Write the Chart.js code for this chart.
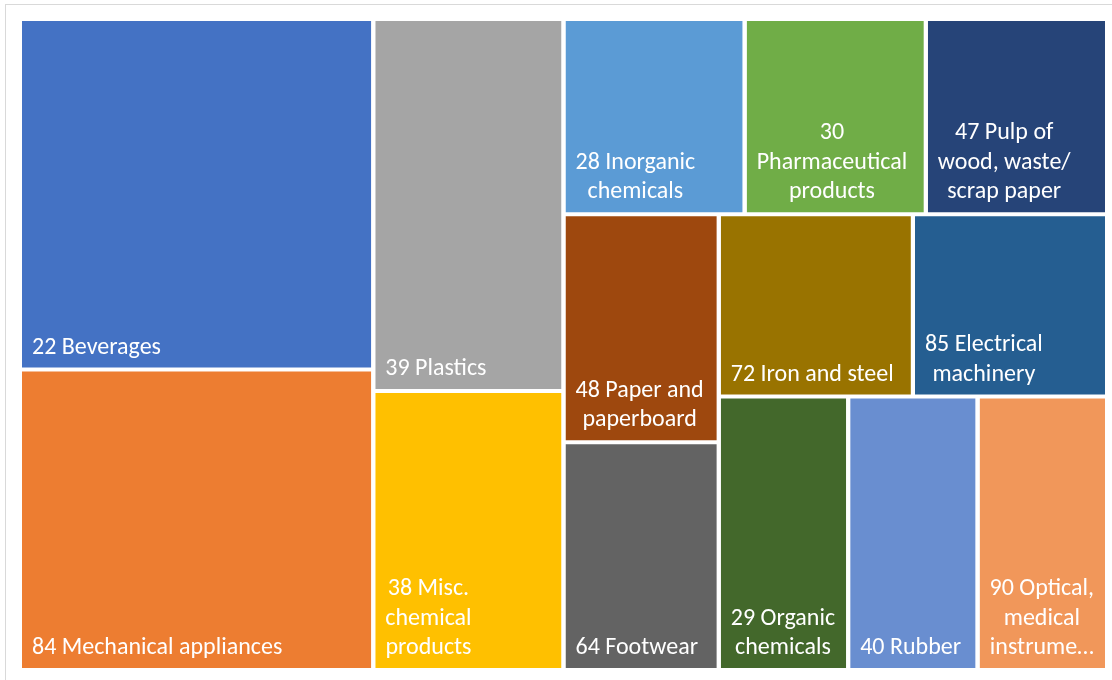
<!DOCTYPE html>
<html>
<head>
<meta charset="utf-8">
<title>Treemap</title>
<script src="https://cdn.jsdelivr.net/npm/chart.js@4.4.0/dist/chart.umd.min.js"></script>
<style>
    html, body { margin: 0; padding: 0; background: #fff; overflow: hidden; }
    #frame { position: absolute; left: 5px; top: 4px; width: 1200px; height: 800px; border: 1px solid #d9d9d9; }
    #wrap { position: absolute; left: 0; top: 0; width: 1112px; height: 680px; }
</style>
</head>
<body>
<div id="frame"></div>
<div id="wrap"><canvas id="myChart"></canvas></div>
<script>
// HS chapters, in the order the tiles are laid out (largest first)
var categories = [
    '22 Beverages',
    '84 Mechanical appliances',
    '39 Plastics',
    '38 Misc. chemical products',
    '28 Inorganic chemicals',
    '30 Pharmaceutical products',
    '47 Pulp of wood, waste/scrap paper',
    '48 Paper and paperboard',
    '64 Footwear',
    '72 Iron and steel',
    '85 Electrical machinery',
    '29 Organic chemicals',
    '40 Rubber',
    '90 Optical, medical instruments'
];
var values = [7, 6, 4, 3, 2, 2, 2, 2, 2, 2, 2, 2, 2, 2];

// how many tiles go in each strip (the grouping the original layout used)
var strips = [2, 2, 3, 2, 2, 3];

var colors = ['#4472C4', '#ED7D31', '#A5A5A5', '#FFC000', '#5B9BD5', '#70AD47', '#264478',
              '#9E480E', '#636363', '#997300', '#255E91', '#43682B', '#698ED0', '#F1975A'];

var PADDING = {left: 20, top: 19, right: 5, bottom: 10};
var AREA_W = 1112 - PADDING.left - PADDING.right;
var AREA_H = 680 - PADDING.top - PADDING.bottom;
var HALF_GAP = 2;
var LABEL_FONT = '24px Carlito, Calibri, Lato, sans-serif';
var TEXT_PAD = 10;
var BASELINE_PAD = 14;
var LINE_H = 29.5;

function sum(list) {
    var s = 0;
    for (var i = 0; i < list.length; i++) s += list[i];
    return s;
}

function worstRatio(group, unit, thick) {
    var worst = 0;
    for (var i = 0; i < group.length; i++) {
        var len = group[i] * unit / thick;
        worst = Math.max(worst, len / thick, thick / len);
    }
    return worst;
}

// strip layout: each strip goes along whichever side gives squarer tiles
function layoutTiles(vals, groups, w, h) {
    var unit = (w * h) / sum(vals);
    var x = 0, y = 0, i = 0;
    var out = [];
    groups.forEach(function (n) {
        var group = vals.slice(i, i + n);
        var area = sum(group) * unit;
        var colW = area / h, rowH = area / w;
        if (worstRatio(group, unit, colW) <= worstRatio(group, unit, rowH)) {
            var yy = y;
            group.forEach(function (v) {
                var hh = v * unit / colW;
                out.push({x0: x, x1: x + colW, y0: yy, y1: yy + hh});
                yy += hh;
            });
            x += colW; w -= colW;
        } else {
            var xx = x;
            group.forEach(function (v) {
                var ww = v * unit / rowH;
                out.push({x0: xx, x1: xx + ww, y0: y, y1: y + rowH});
                xx += ww;
            });
            y += rowH; h -= rowH;
        }
        i += n;
    });
    return out;
}

var tiles = layoutTiles(values, strips, AREA_W, AREA_H);

// each tile is a two point line filled down to its bottom edge
var datasets = tiles.map(function (t, i) {
    return {
        label: categories[i],
        data: [{x: t.x0 + HALF_GAP, y: t.y0 + HALF_GAP}, {x: t.x1 - HALF_GAP, y: t.y0 + HALF_GAP}],
        fill: {value: t.y1 - HALF_GAP},
        backgroundColor: colors[i],
        borderColor: 'rgba(0,0,0,0)',
        borderWidth: 0,
        pointRadius: 0,
        pointHoverRadius: 0
    };
});

function wrapLabel(ctx, text, maxW) {
    // break at spaces and after slashes
    var tokens = [];
    text.split(' ').forEach(function (word) {
        var parts = word.split('/');
        parts.forEach(function (p, k) {
            var tok = k < parts.length - 1 ? p + '/' : p;
            if (tok.length) tokens.push({t: tok, sp: k === 0});
        });
    });
    var lines = [];
    var cur = '';
    for (var i = 0; i < tokens.length; i++) {
        var tok = tokens[i];
        var trial = cur === '' ? tok.t : cur + (tok.sp ? ' ' : '') + tok.t;
        if (ctx.measureText(trial).width <= maxW) {
            cur = trial;
            continue;
        }
        if (cur !== '') {
            lines.push(cur);
            cur = '';
        }
        if (ctx.measureText(tok.t).width <= maxW) {
            cur = tok.t;
        } else {
            var s = tok.t;
            while (s.length > 1 && ctx.measureText(s + '\u2026').width > maxW) s = s.slice(0, -1);
            lines.push(s + '\u2026');
            return lines;
        }
    }
    if (cur !== '') lines.push(cur);
    return lines;
}

var tileLabels = {
    id: 'tileLabels',
    afterDatasetsDraw: function (chart) {
        var ctx = chart.ctx;
        var xs = chart.scales.x, ys = chart.scales.y;
        ctx.save();
        ctx.font = LABEL_FONT;
        ctx.fillStyle = '#ffffff';
        ctx.textBaseline = 'alphabetic';
        ctx.textAlign = 'left';
        tiles.forEach(function (t, i) {
            var left = xs.getPixelForValue(t.x0 + HALF_GAP);
            var right = xs.getPixelForValue(t.x1 - HALF_GAP);
            var bottom = ys.getPixelForValue(t.y1 - HALF_GAP);
            var lines = wrapLabel(ctx, categories[i], right - left - 2 * TEXT_PAD);
            var blockW = 0;
            lines.forEach(function (l) { blockW = Math.max(blockW, ctx.measureText(l).width); });
            lines.forEach(function (l, k) {
                var w = ctx.measureText(l).width;
                var y = bottom - BASELINE_PAD - (lines.length - 1 - k) * LINE_H;
                ctx.fillText(l, left + TEXT_PAD + (blockW - w) / 2, y);
            });
        });
        ctx.restore();
    }
};

var ctx = document.getElementById('myChart').getContext('2d');
var chart = new Chart(ctx, {
    type: 'line',
    data: {datasets: datasets},
    options: {
        responsive: true,
        maintainAspectRatio: false,
        animation: false,
        layout: {padding: PADDING},
        plugins: {
            legend: {display: false},
            tooltip: {enabled: false}
        },
        scales: {
            x: {type: 'linear', display: false, min: 0, max: AREA_W},
            y: {type: 'linear', display: false, min: 0, max: AREA_H, reverse: true}
        }
    },
    plugins: [tileLabels]
});
</script>
</body>
</html>
